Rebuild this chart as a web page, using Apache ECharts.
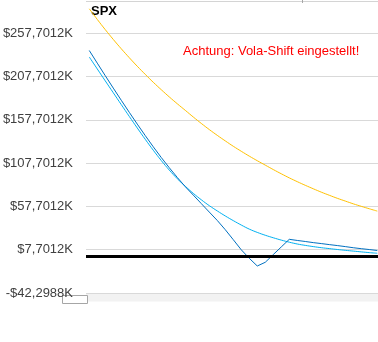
<!DOCTYPE html>
<html>
<head>
<meta charset="utf-8">
<script src="https://cdn.jsdelivr.net/npm/echarts@6/dist/echarts.min.js"></script>
<style>
html,body{margin:0;padding:0;background:#fff;}
#chart{width:378px;height:342px;}
</style>
</head>
<body>
<div id="chart"></div>
<script>
// Underlying price steps (x positions of the payoff samples)
var xValues = [0,1,2,3,4,5,6,7,8,9,10,11,12,13,14,15,16,17,18,19,20,21,22,23,24,25,26,27,28,29,30,31,32,33,34,35,36];
// Values in K$
var seriesOrange = [286.0,273.7,261.9,250.6,239.8,229.5,219.6,210.2,201.1,192.5,184.2,176.3,168.7,161.0,153.6,146.5,139.8,133.4,127.2,121.4,115.8,110.5,105.4,100.3,95.4,90.7,86.3,82.1,78.1,74.2,70.6,67.1,63.9,60.7,57.8,55.0,52.3];
var seriesDarkBlue = [237.8,223.2,208.7,194.4,180.3,166.4,152.8,139.5,126.6,114.2,102.4,91.2,80.5,70.8,61.0,51.2,41.5,30.8,19.3,7.6,-2.2,-11.1,-6.8,2.1,10.9,19.7,18.4,17.2,15.9,14.8,13.6,12.5,11.3,10.0,8.9,7.9,6.8];
var seriesLightBlue = [230.3,216.5,202.7,189.0,175.3,161.7,148.3,135.2,122.6,110.7,99.7,89.7,81.0,72.8,65.4,58.6,52.5,46.7,41.3,36.2,31.5,27.7,24.4,21.5,18.8,16.4,14.3,12.7,11.3,10.05,9.0,7.95,7.0,6.1,5.2,4.35,3.6];
var yTickLabels = ['-$42,2988K','$7,7012K','$57,7012K','$107,7012K','$157,7012K','$207,7012K','$257,7012K',''];
var yMin = -42.2988, yMax = 307.7012, yStep = 50;
var xMin = -0.41, xMax = 36.09;
var titleText = 'SPX';
var noteText = 'Achtung: Vola-Shift eingestellt!';

function pair(arr){ return xValues.map(function(x,i){ return [x, arr[i]]; }); }
function fmt(v){
  var k = Math.round((v - yMin) / yStep);
  return yTickLabels[k] !== undefined ? yTickLabels[k] : '';
}
var FONT = '"Liberation Sans", Arial, sans-serif';
var chart = echarts.init(document.getElementById('chart'), null, {renderer:'canvas'});
chart.setOption({
  animation: false,
  backgroundColor: '#ffffff',
  grid: {left: 86, right: 0, top: -10, bottom: 49, containLabel: false, outerBoundsMode: 'none'},
  xAxis: {
    type: 'value', min: xMin, max: xMax,
    show: false, splitLine: {show: false}
  },
  yAxis: {
    type: 'value', min: yMin, max: yMax, interval: yStep,
    axisLine: {show: false}, axisTick: {show: false},
    splitLine: {show: true, lineStyle: {color: '#d9d9d9', width: 1}},
    axisLabel: {formatter: fmt, color: '#404040', fontSize: 13, fontFamily: FONT, margin: 13}
  },
  graphic: [
    {type: 'line', shape: {x1: 86, y1: 1.5, x2: 378, y2: 1.5}, style: {stroke: '#d4d4d4', lineWidth: 1}},
    {type: 'line', shape: {x1: 302.5, y1: 0, x2: 302.5, y2: 3}, style: {stroke: '#a6a6a6', lineWidth: 1}},
    {type: 'rect', shape: {x: 86, y: 293.5, width: 292, height: 8}, style: {fill: '#f2f2f2', stroke: null}},
    {type: 'rect', shape: {x: 62.5, y: 295.5, width: 25, height: 8}, style: {fill: '#ffffff', stroke: '#a6a6a6', lineWidth: 1}},
    {type: 'text', left: 91, top: 5, style: {text: titleText, font: 'bold 13px ' + FONT, fill: '#000000'}},
    {type: 'text', x: 183, y: 51.5, style: {text: noteText, font: '13px ' + FONT, fill: '#ff0000', textVerticalAlign: 'middle'}}
  ],
  series: [
    {name: 'Orange', type: 'line', smooth: 0.4, data: pair(seriesOrange), showSymbol: false, symbol: 'none', lineStyle: {color: '#ffc000', width: 1}, itemStyle: {color: '#ffc000'}},
    {name: 'Light', type: 'line', smooth: 0.4, data: pair(seriesLightBlue), showSymbol: false, symbol: 'none', lineStyle: {color: '#00b0f0', width: 1}, itemStyle: {color: '#00b0f0'}},
    {name: 'Dark', type: 'line', data: pair(seriesDarkBlue), showSymbol: false, symbol: 'none', lineStyle: {color: '#0070c0', width: 1}, itemStyle: {color: '#0070c0'}},
    {name: 'Zero', type: 'line', data: [[xMin, 0], [xMax, 0]], showSymbol: false, symbol: 'none', z: 5, lineStyle: {color: '#000000', width: 3}, itemStyle: {color: '#000000'}}
  ]
});
</script>
</body>
</html>
